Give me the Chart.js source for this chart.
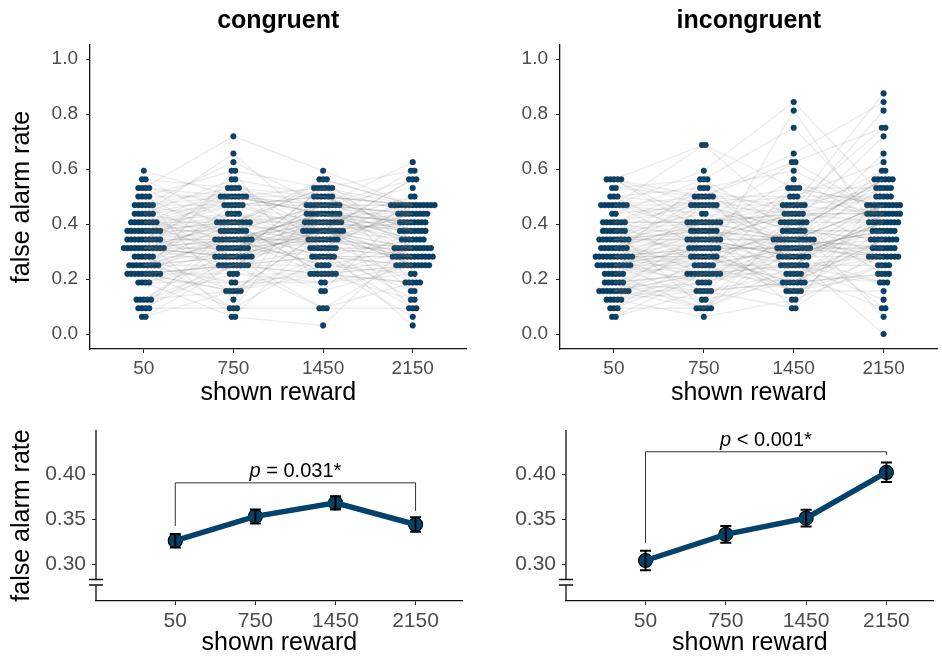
<!DOCTYPE html>
<html>
<head>
<meta charset="utf-8">
<script src="https://cdn.jsdelivr.net/npm/chart.js@4.4.1/dist/chart.umd.min.js"></script>
<style>
  body { margin: 0; background: #fff; }
  #wrap { position: relative; width: 942px; height: 660px; }
  canvas { position: absolute; }
</style>
</head>
<body>
<div id="wrap">
  <canvas id="topLeft" width="471" height="410" style="left:0;top:0"></canvas>
  <canvas id="topRight" width="471" height="410" style="left:471px;top:0"></canvas>
  <canvas id="bottomLeft" width="471" height="250" style="left:0;top:410px"></canvas>
  <canvas id="bottomRight" width="471" height="250" style="left:471px;top:410px"></canvas>
</div>
<script>
const rewards = ['50', '750', '1450', '2150'];
const nTrials = 32; // false alarm rate = false alarms / 32 lure trials

// per-participant false alarm counts, same participant order in every array
const congruent50 = [19,18,18,17,17,17,17,16,16,16,16,15,15,15,15,15,15,14,14,14,14,14,14,13,13,13,
  13,13,13,13,13,12,12,12,12,12,12,12,12,12,12,11,11,11,11,11,11,11,11,11,11,10,
  10,10,10,10,10,10,10,10,10,10,10,9,9,9,9,9,9,8,8,8,8,8,8,8,8,8,
  7,7,7,7,7,7,7,7,7,7,6,6,6,6,4,4,4,4,4,3,3,3,3,2,2];
const congruent750 = [16,13,17,15,23,12,16,19,11,16,4,17,15,20,16,13,10,18,16,12,21,15,9,17,16,15,
  13,11,14,12,9,16,13,10,12,7,14,11,15,13,12,17,11,2,13,14,9,16,12,11,10,13,
  10,9,11,18,9,13,10,8,11,9,12,5,11,14,9,10,3,11,15,9,6,13,10,8,11,9,
  8,5,10,8,3,12,7,8,5,19,9,6,8,2,11,5,8,10,7,13,8,3,9,5,8];
const congruent1450 = [15,17,12,16,19,15,14,17,11,15,18,16,13,15,10,17,15,16,14,18,12,15,17,13,16,15,
  14,13,10,15,12,14,18,13,9,14,11,13,16,7,13,15,14,12,10,13,5,17,11,14,15,13,
  12,11,14,10,12,7,13,12,11,17,10,12,8,12,3,11,16,10,12,13,6,11,14,10,7,12,
  9,7,11,8,3,9,7,13,9,5,10,7,9,1,8,12,7,9,6,11,3,9,14,8,7];
const congruent2150 = [15,14,18,12,15,20,11,15,16,13,15,10,19,14,15,12,17,15,9,15,13,18,11,14,15,15,
  13,12,15,14,9,13,10,16,11,14,13,5,15,12,8,14,13,18,10,11,15,6,14,12,9,13,
  10,9,12,10,14,9,3,11,10,19,9,8,10,13,9,6,12,9,10,15,7,9,11,4,10,9,
  8,6,10,8,3,9,8,12,5,8,1,6,8,11,7,8,4,9,8,14,6,3,10,2,8];

const incongruent50 = [18,18,18,18,18,17,17,16,16,16,15,15,15,15,15,15,15,15,14,14,13,13,13,13,13,13,
  13,12,12,12,12,12,12,12,11,11,11,11,11,11,11,11,11,10,10,10,10,10,10,10,10,9,
  9,9,9,9,9,9,9,9,9,9,8,8,8,8,8,8,8,8,8,8,7,7,7,7,7,7,
  6,6,6,6,6,6,5,5,5,5,5,5,5,5,5,4,4,4,4,4,3,3,3,2,2];
const incongruent750 = [16,13,22,15,12,18,16,11,15,17,13,19,15,10,16,22,14,12,18,15,8,17,13,16,11,15,
  13,11,16,12,9,13,14,3,11,12,15,7,13,10,11,17,12,6,13,9,16,11,8,13,15,12,
  10,9,11,8,13,10,5,9,18,7,10,12,8,11,4,9,10,6,13,7,15,10,3,9,8,11,
  7,5,10,7,3,9,6,7,12,5,4,7,8,3,10,7,5,2,11,6,7,9,3,5,7];
const incongruent1450 = [15,20,13,17,11,24,16,15,12,19,14,27,10,15,21,17,13,18,12,16,26,9,14,20,11,15,
  11,14,13,9,12,15,11,10,14,3,12,17,11,8,13,14,11,9,16,12,7,11,10,13,14,15,
  10,11,9,13,6,10,12,9,8,15,11,10,5,9,12,7,10,13,9,4,11,17,8,6,10,9,
  8,6,5,11,7,6,8,10,5,3,6,9,8,13,5,7,6,4,8,10,6,5,11,7,8];
const incongruent2150 = [18,24,15,17,21,13,16,28,18,14,19,16,12,17,27,15,23,13,18,20,11,16,26,14,17,24,
  15,14,18,13,11,16,15,10,14,17,12,15,8,14,13,16,15,6,14,18,11,10,15,17,13,14,
  12,10,13,9,15,11,12,0,14,10,19,12,8,13,11,10,18,7,12,14,9,13,6,11,10,15,
  9,7,11,9,3,12,8,9,5,10,7,9,15,2,9,6,11,8,4,9,14,7,3,9,13];

// group means and standard errors
const congruentMean = [0.326, 0.353, 0.368, 0.344];
const congruentSE = [0.0075, 0.0078, 0.0074, 0.0080];
const incongruentMean = [0.304, 0.333, 0.351, 0.402];
const incongruentSE = [0.0107, 0.0093, 0.0093, 0.0109];

const swarmTicks = [0, 0.2, 0.4, 0.6, 0.8, 1.0];
const meanTicks = [0.30, 0.35, 0.40];

// significance brackets: [top, left foot, right foot]
const congruentBracket = [0.3903, 0.3422, 0.3592];
const incongruentBracket = [0.4248, 0.3237, 0.4210];
const congruentP = ' = 0.031*';
const incongruentP = ' < 0.001*';

const navy = '#03426a';
const fontFamily = '"Liberation Sans", Arial, Helvetica, sans-serif';
Chart.defaults.font.family = fontFamily;

// one row of dots per value, spread sideways around the category
function swarmPoints(conditions) {
  const pts = [];
  conditions.forEach((vals, c) => {
    const rows = {};
    vals.forEach(v => { rows[v] = (rows[v] || 0) + 1; });
    Object.keys(rows).forEach(k => {
      const n = rows[k];
      for (let j = 0; j < n; j++) {
        pts.push({ x: c + (j - (n - 1) / 2) * 0.0406, y: k / nTrials });
      }
    });
  });
  return pts;
}

const panelTitle = {
  id: 'panelTitle',
  afterDraw(chart, args, opts) {
    const { ctx, chartArea } = chart;
    ctx.save();
    ctx.font = 'bold 25px ' + fontFamily;
    ctx.fillStyle = '#000';
    ctx.textAlign = 'center';
    ctx.textBaseline = 'alphabetic';
    ctx.fillText(opts.text, (chartArea.left + chartArea.right) / 2, 28);
    ctx.restore();
  }
};

function xAxis(min, max, height, size) {
  return {
    type: 'linear', min: min, max: max,
    afterBuildTicks: s => { s.ticks = [0, 1, 2, 3].map(v => ({ value: v })); },
    afterFit: s => { s.height = height; },
    ticks: { callback: v => rewards[v], color: '#4d4d4d', font: { size: size }, padding: 4, maxRotation: 0 },
    grid: { drawOnChartArea: false, drawTicks: true, tickLength: 4, color: '#222' },
    border: { display: true, color: '#111', width: 1.3 },
    title: { display: true, text: 'shown reward', color: '#000', font: { size: 25 }, padding: { top: 0, bottom: 2 } }
  };
}

function yAxis(min, max, ticks, digits, width, showTitle, size, padding, border) {
  return {
    min: min, max: max,
    afterBuildTicks: s => { s.ticks = ticks.map(v => ({ value: v })); },
    afterFit: s => { s.width = width; },
    ticks: { callback: v => v.toFixed(digits), color: '#4d4d4d', font: { size: size }, padding: padding },
    grid: { drawOnChartArea: false, drawTicks: true, tickLength: 4, color: '#222' },
    border: { display: border, color: '#111', width: 1.3 },
    title: { display: showTitle, text: 'false alarm rate', color: '#000', font: { size: 25 }, padding: { top: 7, bottom: 0 } }
  };
}

function makeSwarm(id, title, conditions, showTitle, yWidth, padRight) {
  const lineSets = conditions[0].map((_, i) => ({
    data: conditions.map((vals, c) => ({ x: c, y: vals[i] / nTrials })),
    showLine: true, borderColor: 'rgba(110,110,110,0.13)', borderWidth: 1.4, pointRadius: 0
  }));
  const dots = {
    data: swarmPoints(conditions), showLine: false,
    pointRadius: 2.8, pointBackgroundColor: navy, pointBorderColor: '#0b2d47', pointBorderWidth: 0.5
  };
  new Chart(document.getElementById(id), {
    type: 'scatter',
    data: { datasets: lineSets.concat([dots]) },
    options: {
      responsive: false, animation: false, events: [],
      layout: { padding: { top: 45, right: padRight, left: 0, bottom: 0 } },
      plugins: { legend: { display: false }, tooltip: { enabled: false }, panelTitle: { text: title } },
      scales: {
        x: xAxis(-0.6, 3.6, 61, 19),
        y: yAxis(-0.0545, 1.051, swarmTicks, 1, yWidth, showTitle, 19, 8, true)
      }
    },
    plugins: [panelTitle]
  });
}

const meanDecor = {
  id: 'meanDecor',
  afterDatasetDraw(chart, args, opts) {
    if (args.index !== 0) return;
    const { ctx, scales } = chart;
    ctx.save();
    ctx.strokeStyle = '#000';
    ctx.lineWidth = 2;
    opts.means.forEach((m, i) => {
      const x = scales.x.getPixelForValue(i);
      const y1 = scales.y.getPixelForValue(m + opts.se[i]);
      const y2 = scales.y.getPixelForValue(m - opts.se[i]);
      ctx.beginPath();
      ctx.moveTo(x, y1); ctx.lineTo(x, y2);
      ctx.moveTo(x - 5.5, y1); ctx.lineTo(x + 5.5, y1);
      ctx.moveTo(x - 5.5, y2); ctx.lineTo(x + 5.5, y2);
      ctx.stroke();
    });
    ctx.restore();
  },
  afterDraw(chart, args, opts) {
    const { ctx, chartArea, scales } = chart;
    ctx.save();
    // y axis with break marks
    const ax = chartArea.left, b = chartArea.bottom;
    ctx.strokeStyle = '#111';
    ctx.lineWidth = 1.3;
    ctx.beginPath();
    ctx.moveTo(ax, chartArea.top); ctx.lineTo(ax, b - 21.5);
    ctx.moveTo(ax, b - 16); ctx.lineTo(ax, b);
    ctx.moveTo(ax - 7, b - 21.5); ctx.lineTo(ax + 7, b - 21.5);
    ctx.moveTo(ax - 7, b - 16); ctx.lineTo(ax + 7, b - 16);
    ctx.stroke();
    // bracket
    const xl = scales.x.getPixelForValue(0), xr = scales.x.getPixelForValue(3);
    const yt = scales.y.getPixelForValue(opts.bracket[0]);
    ctx.strokeStyle = '#333';
    ctx.lineWidth = 1;
    ctx.beginPath();
    ctx.moveTo(xl, scales.y.getPixelForValue(opts.bracket[1]));
    ctx.lineTo(xl, yt); ctx.lineTo(xr, yt);
    ctx.lineTo(xr, scales.y.getPixelForValue(opts.bracket[2]));
    ctx.stroke();
    // p value label
    ctx.fillStyle = '#000';
    ctx.textBaseline = 'alphabetic';
    ctx.textAlign = 'left';
    ctx.font = 'italic 20px ' + fontFamily;
    const wp = ctx.measureText('p').width;
    ctx.font = '20px ' + fontFamily;
    const wr = ctx.measureText(opts.p).width;
    const x0 = (xl + xr) / 2 - (wp + wr) / 2;
    ctx.font = 'italic 20px ' + fontFamily;
    ctx.fillText('p', x0, yt - 6);
    ctx.font = '20px ' + fontFamily;
    ctx.fillText(opts.p, x0 + wp, yt - 6);
    ctx.restore();
  }
};

function makeMeans(id, means, se, bracket, pText, showTitle, yWidth) {
  const pts = means.map((m, i) => ({ x: i, y: m }));
  new Chart(document.getElementById(id), {
    type: 'scatter',
    data: {
      datasets: [
        { data: pts, showLine: true, borderColor: navy, borderWidth: 5.5, pointRadius: 0 },
        { data: pts, showLine: false, pointRadius: 7, pointBackgroundColor: navy, pointBorderColor: '#000', pointBorderWidth: 1.2 }
      ]
    },
    options: {
      responsive: false, animation: false, events: [],
      layout: { padding: { top: 20, right: 5, left: 0, bottom: 0 } },
      plugins: {
        legend: { display: false }, tooltip: { enabled: false },
        meanDecor: { means: means, se: se, bracket: bracket, p: pText }
      },
      scales: {
        x: xAxis(-0.99, 3.59, 59, 21),
        y: yAxis(0.259, 0.449, meanTicks, 2, yWidth, showTitle, 21, 6, false)
      }
    },
    plugins: [meanDecor]
  });
}

makeSwarm('topLeft', 'congruent', [congruent50, congruent750, congruent1450, congruent2150], true, 90, 1);
makeSwarm('topRight', 'incongruent', [incongruent50, incongruent750, incongruent1450, incongruent2150], false, 89, 2);
makeMeans('bottomLeft', congruentMean, congruentSE, congruentBracket, congruentP, true, 96);
makeMeans('bottomRight', incongruentMean, incongruentSE, incongruentBracket, incongruentP, false, 95);
</script>
</body>
</html>
